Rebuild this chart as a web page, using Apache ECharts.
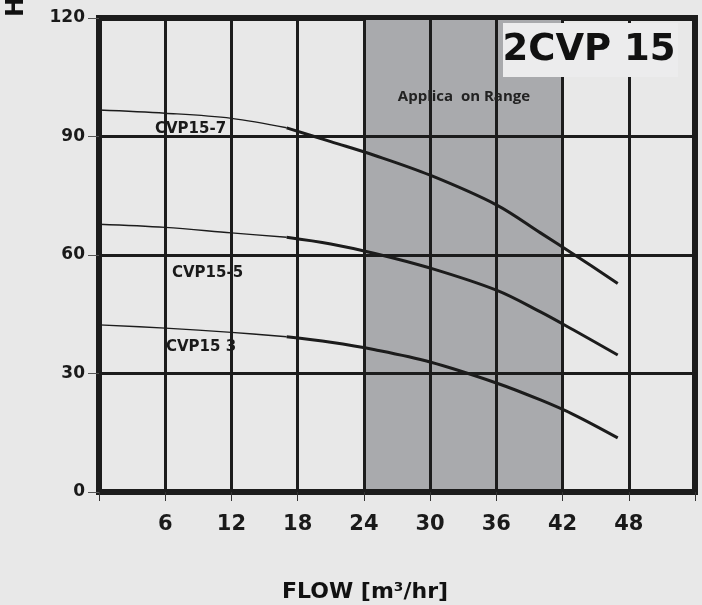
<!DOCTYPE html>
<html>
<head>
<meta charset="utf-8">
<script src="https://cdn.jsdelivr.net/npm/echarts@6/dist/echarts.min.js"></script>
<style>
  html, body { margin: 0; padding: 0; background: #e8e8e8; }
  #chart { width: 702px; height: 605px; }
</style>
</head>
<body>
<div id="chart"></div>
<script>
// pump curves
var flow = [0, 6, 12, 17, 21, 25, 30, 36, 40, 43, 47];
var head7 = [96.7, 95.9, 94.6, 92.2, 88.7, 85.2, 80.2, 72.7, 65.6, 60.2, 52.8];
var head5 = [67.8, 67.0, 65.6, 64.5, 62.8, 60.4, 56.7, 51.1, 45.6, 41.0, 34.7];
var head3 = [42.3, 41.5, 40.4, 39.3, 37.9, 36.0, 32.9, 27.6, 23.3, 19.6, 13.7];
var curveNames = ['CVP15-7', 'CVP15-5', 'CVP15 3'];
var rangeFrom = 24, rangeTo = 42;   // application range band
var thickFrom = 17;                 // curve gets bold from here
var xTickLabels = ['6', '12', '18', '24', '30', '36', '42', '48'];

var dom = document.getElementById('chart');
var myChart = echarts.init(dom);
var ink = '#1c1c1c';

function pairs(heads, keep) {
    var out = [];
    for (var i = 0; i < flow.length; i++) {
        if (keep(flow[i])) out.push([flow[i], heads[i]]);
    }
    return out;
}

var series = [];
[head7, head5, head3].forEach(function (h, k) {
    series.push({
        name: curveNames[k] + ' a', type: 'line', smooth: 0.35, symbol: 'none',
        lineStyle: { color: ink, width: 1.4 },
        data: pairs(h, function (f) { return f <= thickFrom; })
    });
    series.push({
        name: curveNames[k], type: 'line', smooth: 0.35, symbol: 'none',
        lineStyle: { color: ink, width: 3 },
        data: pairs(h, function (f) { return f >= thickFrom; })
    });
});
// band behind the grid
series.push({
    type: 'line', data: [], z: 1,
    markArea: {
        silent: true,
        itemStyle: { color: '#a9aaad', opacity: 1 },
        data: [[{ xAxis: rangeFrom }, { xAxis: rangeTo }]]
    }
});

var option = {
    backgroundColor: '#e8e8e8',
    animation: false,
    grid: {
        left: 99, right: 7, top: 18, bottom: 113,
        show: true, borderColor: ink, borderWidth: 6, backgroundColor: 'transparent'
    },
    xAxis: {
        type: 'value', min: 0, max: 54, interval: 6, z: 3,
        axisLine: { show: true, lineStyle: { color: ink, width: 6 } },
        axisTick: { show: true, length: 9, lineStyle: { color: '#333', width: 1 } },
        axisLabel: {
            margin: 22, fontFamily: 'DejaVu Sans', fontWeight: 'bold', fontSize: 21, color: '#1a1a1a',
            formatter: function (v) { return xTickLabels.indexOf(String(v)) >= 0 ? String(v) : ''; }
        },
        splitLine: { show: true, lineStyle: { color: ink, width: 3 } }
    },
    yAxis: {
        type: 'value', min: 0, max: 120, interval: 30, z: 3,
        axisLine: { show: true, lineStyle: { color: ink, width: 5 } },
        axisTick: { show: true, length: 11, lineStyle: { color: '#555', width: 1 } },
        axisLabel: { margin: 14, fontFamily: 'DejaVu Sans', fontWeight: 'bold', fontSize: 17, color: '#1a1a1a' },
        splitLine: { show: true, lineStyle: { color: ink, width: 3 } }
    },
    graphic: [
        { type: 'text', x: 17, y: 7, rotation: Math.PI / 2, z: 10,
          style: { text: 'H', font: 'bold 24px "DejaVu Sans"', fill: '#111', align: 'center', verticalAlign: 'middle' } },
        { type: 'text', x: 365, y: 592, z: 10,
          style: { text: 'FLOW [m³/hr]', font: 'bold 22px "DejaVu Sans"', fill: '#111', align: 'center', verticalAlign: 'middle' } },
        { type: 'rect', z: 10, shape: { x: 503, y: 23, width: 175, height: 54 }, style: { fill: '#ececed' } },
        { type: 'text', x: 589, y: 50, z: 11,
          style: { text: '2CVP 15', font: 'bold 37px "DejaVu Sans"', fill: '#111', align: 'center', verticalAlign: 'middle' } },
        { type: 'text', x: 464, y: 97, z: 11,
          style: { text: 'Applica  on Range', font: 'bold 15px "Open Sans"', fill: '#222', align: 'center', verticalAlign: 'middle' } },
        { type: 'text', x: 155, y: 129, z: 11,
          style: { text: curveNames[0], font: 'bold 15px "DejaVu Sans"', fill: '#1a1a1a', verticalAlign: 'middle' } },
        { type: 'text', x: 172, y: 273, z: 11,
          style: { text: curveNames[1], font: 'bold 15px "DejaVu Sans"', fill: '#1a1a1a', verticalAlign: 'middle' } },
        { type: 'text', x: 166, y: 347, z: 11,
          style: { text: curveNames[2], font: 'bold 15px "DejaVu Sans"', fill: '#1a1a1a', verticalAlign: 'middle' } }
    ],
    series: series
};
myChart.setOption(option, true);
</script>
</body>
</html>
